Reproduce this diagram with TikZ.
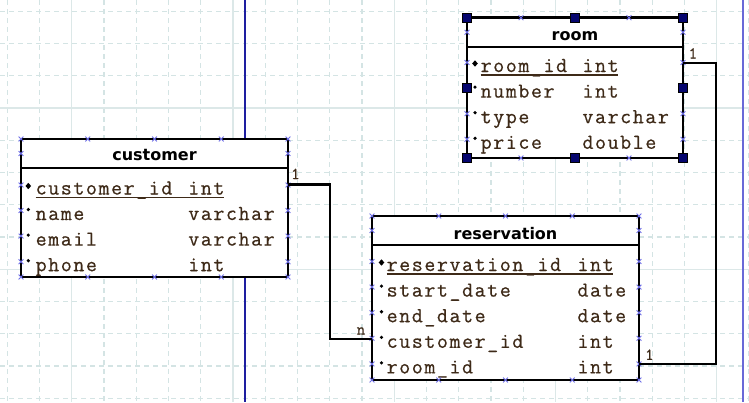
\documentclass[tikz,border=0pt]{standalone}
\usepackage{fontspec}
\newfontfamily\fieldfam{Latin Modern Mono}[LetterSpace=7.5, FakeBold=0.6]
\newfontfamily\titlefam{DejaVu Sans}
\definecolor{fieldc}{RGB}{62,42,24}
\definecolor{gridd}{RGB}{212,228,228}
\definecolor{grids}{RGB}{220,232,232}
\definecolor{markc}{RGB}{110,110,230}
\definecolor{handlec}{RGB}{5,5,110}
\definecolor{bluel}{RGB}{30,30,160}
\definecolor{purpl}{RGB}{105,105,215}
\newcommand\fieldfont{\fieldfam\fontsize{21.3}{21.3}\selectfont}
\newcommand\cardfont{\fieldfam\fontsize{16.5}{16.5}\selectfont}
\tikzset{
  tbl/.style={draw=black, fill=white, line width=2.8pt, inner sep=0pt},
  hdr/.style={draw=black, line width=2.2pt},
  ttl/.style={font=\titlefam\bfseries\fontsize{16}{16}\selectfont, text=black, anchor=base, inner sep=0pt},
  fld/.style={font=\fieldfont, text=fieldc, anchor=base west, inner sep=0pt},
  card/.style={font=\cardfont, text=fieldc, anchor=base west, inner sep=0pt},
  ul/.style={draw=fieldc, line width=1.2pt},
  conn/.style={draw=black, line width=2.2pt},
  xm/.pic={\draw[markc, line width=0.9pt] (-2.4,-2.4) -- (2.4,2.4) (-2.4,2.4) -- (2.4,-2.4);},
  hd/.pic={\filldraw[fill=handlec, draw=black, line width=0.6pt] (-4.3,-4.3) rectangle (4.3,4.3);},
  pkb/.pic={\fill[black] (0,-3.2) -- (2.8,0) -- (0,3.2) -- (-2.8,0) -- cycle;},
  fb/.pic={\fill[black] (0,0) circle (1.8);}
}
\begin{document}
\begin{tikzpicture}[x=1pt,y=-1pt]
\useasboundingbox (0,0) rectangle (749,402);
\fill[white] (0,0) rectangle (749,402);
% grid
\foreach \k in {0,...,23} {
  \draw[gridd, line width=1.1pt, dash pattern=on 5pt off 4pt] ({7.2+32.25*\k},0) -- ({7.2+32.25*\k},402);
}
\foreach \k in {0,...,12} {
  \draw[gridd, line width=1.1pt, dash pattern=on 5pt off 4pt] (0,{11.25+32.25*\k}) -- (749,{11.25+32.25*\k});
}
\foreach \k in {2,7,12,17,22} {
  \draw[grids, line width=1.2pt] ({7.2+32.25*\k},0) -- ({7.2+32.25*\k},402);
}
\foreach \k in {3,8} {
  \draw[grids, line width=1.2pt] (0,{11.25+32.25*\k}) -- (749,{11.25+32.25*\k});
}
% page lines
\draw[bluel, line width=1.5pt] (245,0) -- (245,402);
\draw[purpl, line width=2pt] (743,0) -- (743,402);

% ---------- customer ----------
\node[tbl, minimum width=267pt, minimum height=138pt] (customer) at (154.5,208) {};
\draw[hdr] (21,168) -- (288,168);
\node[ttl] (customerT) at (154.5,160.5) {customer};
\node[fld] (c1) at (35.5,194.5) {customer\_id};
\node[fld] (c1t) at (188.1,194.5) {int};
\draw[ul] ([yshift=-3pt]c1.base west) -- ([yshift=-3pt,xshift=-0.5pt]c1t.base east);
\node[fld] (c2) at (35.5,220) {name};
\node[fld] (c2t) at (188.1,220) {varchar};
\node[fld] (c3) at (35.5,245.6) {email};
\node[fld] (c3t) at (188.1,245.6) {varchar};
\node[fld] (c4) at (35.5,271.2) {phone};
\node[fld] (c4t) at (188.1,271.2) {int};
\pic at (28.3,186) {pkb};
\pic at (28.3,209.5) {fb};
\pic at (28.3,235.1) {fb};
\pic at (28.3,260.7) {fb};

% ---------- reservation ----------
\node[tbl, minimum width=267pt, minimum height=164pt] (reservation) at (505.5,298) {};
\draw[hdr] (372,245) -- (639,245);
\node[ttl] (reservationT) at (505.5,239) {reservation};
\node[fld] (r1) at (386.5,271) {reservation\_id};
\node[fld] (r1t) at (577.3,271) {int};
\draw[ul] ([yshift=-3pt]r1.base west) -- ([yshift=-3pt,xshift=-0.5pt]r1t.base east);
\node[fld] (r2) at (386.5,296.6) {start\_date};
\node[fld] (r2t) at (577.3,296.6) {date};
\node[fld] (r3) at (386.5,322.2) {end\_date};
\node[fld] (r3t) at (577.3,322.2) {date};
\node[fld] (r4) at (386.5,347.8) {customer\_id};
\node[fld] (r4t) at (577.3,347.8) {int};
\node[fld] (r5) at (386.5,373.4) {room\_id};
\node[fld] (r5t) at (577.3,373.4) {int};
\pic at (381.5,262.5) {pkb};
\pic at (381.5,286.1) {fb};
\pic at (381.5,311.7) {fb};
\pic at (381.5,337.3) {fb};
\pic at (381.5,362.9) {fb};

% ---------- room ----------
\node[tbl, minimum width=216pt, minimum height=140.3pt] (room) at (575,87.85) {};
\draw[hdr] (467,47) -- (683,47);
\node[ttl] (roomT) at (575,40) {room};
\node[fld] (m1) at (480.5,72) {room\_id};
\node[fld] (m1t) at (582.3,72) {int};
\draw[ul] ([yshift=-3pt]m1.base west) -- ([yshift=-3pt,xshift=-0.5pt]m1t.base east);
\node[fld] (m2) at (480.5,97.6) {number};
\node[fld] (m2t) at (582.3,97.6) {int};
\node[fld] (m3) at (480.5,123.2) {type};
\node[fld] (m3t) at (582.3,123.2) {varchar};
\node[fld] (m4) at (480.5,148.8) {price};
\node[fld] (m4t) at (582.3,148.8) {double};
\pic at (475,63.5) {pkb};
\pic at (475,87.1) {fb};
\pic at (475,112.7) {fb};
\pic at (475,138.3) {fb};

% ---------- connection marks ----------
\foreach \x in {21,87.75,154.5,221.25,288} { \pic at (\x,139) {xm}; \pic at (\x,277) {xm}; }
\foreach \y in {153.5,185,210.5,236.1,261.7} { \pic at (21,\y) {xm}; \pic at (288,\y) {xm}; }
\foreach \x in {372,438.75,505.5,572.25,639} { \pic at (\x,216) {xm}; \pic at (\x,380) {xm}; }
\foreach \y in {230.5,261.5,287.1,312.7,338.3,363.9} { \pic at (372,\y) {xm}; \pic at (639,\y) {xm}; }
\foreach \x in {467,521,575,629,683} { \pic at (\x,17.7) {xm}; \pic at (\x,158) {xm}; }
\foreach \y in {32.3,62.5,88.1,113.7,139.3} { \pic at (467,\y) {xm}; \pic at (683,\y) {xm}; }

% ---------- connectors ----------
\coordinate (cOut) at (288,184.5);
\coordinate (cBend) at (330,184.5);
\coordinate (rIn) at (372,339);
\coordinate (mOut) at (683,63);
\coordinate (mBend) at (716,63);
\coordinate (rIn2) at (639,364);
\draw[conn] (cOut) -- (cBend) |- (rIn);
\draw[conn] (mOut) -- (mBend) |- (rIn2);
\node[card] (k1) at (291,179) {1};
\node[card] (k2) at (356.5,334.5) {n};
\node[card] (k3) at (688.5,58.5) {1};
\node[card] (k4) at (645,359.8) {1};

% ---------- selection handles (room) ----------
\foreach \p in {(467,17.7),(575,17.7),(683,17.7),(467,88),(683,88),(467,158),(575,158),(683,158)} { \pic at \p {hd}; }
\end{tikzpicture}
\end{document}
